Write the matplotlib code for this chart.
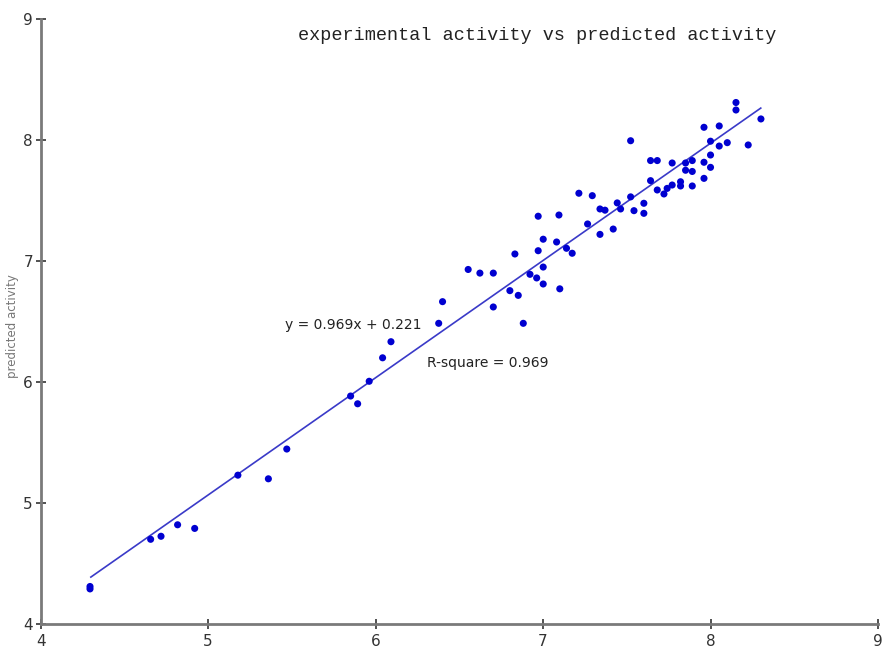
import matplotlib
matplotlib.use("Agg")
import matplotlib.pyplot as plt
import numpy as np

# experimental (x) vs predicted (y) activity
exp_x = [4.295, 4.295, 4.657, 4.719, 4.818, 4.92, 5.178, 5.36, 5.47,
         5.851, 5.893, 5.962, 6.042, 6.092, 6.377, 6.40, 6.553, 6.623,
         6.703, 6.703, 6.802, 6.852, 6.882, 6.832, 6.922, 6.962, 7.001,
         7.001, 6.971, 7.001, 6.971, 7.081, 7.095, 7.10, 7.14, 7.174,
         7.214, 7.266, 7.294, 7.34, 7.37, 7.34, 7.419, 7.443, 7.463,
         7.523, 7.523, 7.543, 7.602, 7.602, 7.642, 7.642, 7.682, 7.682,
         7.722, 7.741, 7.771, 7.771, 7.821, 7.821, 7.851, 7.851, 7.891,
         7.891, 7.891, 7.961, 7.961, 7.961, 8.0, 8.0, 8.0, 8.052, 8.052,
         8.1, 8.152, 8.152, 8.301, 8.225]
pred_y = [4.31, 4.29, 4.70, 4.725, 4.82, 4.79, 5.23, 5.20, 5.446,
          5.884, 5.82, 6.006, 6.20, 6.333, 6.485, 6.664, 6.93, 6.90,
          6.90, 6.62, 6.755, 6.716, 6.485, 7.058, 6.89, 6.86, 6.95,
          6.81, 7.085, 7.18, 7.37, 7.157, 7.38, 6.77, 7.105, 7.064,
          7.56, 7.306, 7.54, 7.43, 7.42, 7.22, 7.264, 7.48, 7.43,
          7.53, 7.994, 7.416, 7.477, 7.394, 7.664, 7.83, 7.83, 7.587,
          7.554, 7.60, 7.628, 7.81, 7.655, 7.62, 7.81, 7.75, 7.83,
          7.74, 7.62, 7.816, 7.683, 8.105, 7.99, 7.876, 7.774, 8.116, 7.95,
          7.978, 8.31, 8.248, 8.174, 7.959]

slope = 0.969
intercept = 0.221
fit_range = [4.3, 8.3]

title = "experimental activity vs predicted activity"
eq_label = "y = 0.969x + 0.221"
r2_label = "R-square = 0.969"
y_label = "predicted activity"
ticks = [4, 5, 6, 7, 8, 9]

fig = plt.figure(figsize=(8.84, 6.51), dpi=100)
ax = fig.add_axes([40.6 / 884, 27 / 651, (878 - 40.6) / 884, (624 - 19) / 651])
ax.set_xlim(4, 9)
ax.set_ylim(4, 9)

fx = np.array(fit_range)
ax.plot(fx, slope * fx + intercept, color="#3a3ac8", lw=1.2, zorder=2)
ax.scatter(exp_x, pred_y, s=26, color="#0000d0", edgecolors="none", zorder=3)

for side in ["top", "right"]:
    ax.spines[side].set_visible(False)
for side in ["left", "bottom"]:
    ax.spines[side].set_color("#7a7a7a")
    ax.spines[side].set_linewidth(2)

ax.set_xticks(ticks)
ax.set_yticks(ticks)
ax.tick_params(direction="inout", length=7, width=1.2, color="#333333",
               labelsize=11, labelcolor="#333333")
ax.tick_params(axis="x", pad=4)
ax.tick_params(axis="y", pad=2)

ax.text(5.459, 6.471, eq_label, fontsize=10, color="#222222",
        ha="left", va="center", family="DejaVu Sans")
ax.text(6.307, 6.157, r2_label, fontsize=10, color="#222222",
        ha="left", va="center", family="DejaVu Sans")

fig.text(537 / 884, 1 - 35 / 651, title, fontsize=13.3, family="Liberation Mono",
         ha="center", va="center", color="#222222")

# small, faint y-axis label at the far left edge, as in the reference
fig.text(13 / 884, 1 - 326 / 651, y_label, rotation=90, fontsize=8.5,
         ha="center", va="center", color="#777777")

fig.savefig("out.png", dpi=100)
